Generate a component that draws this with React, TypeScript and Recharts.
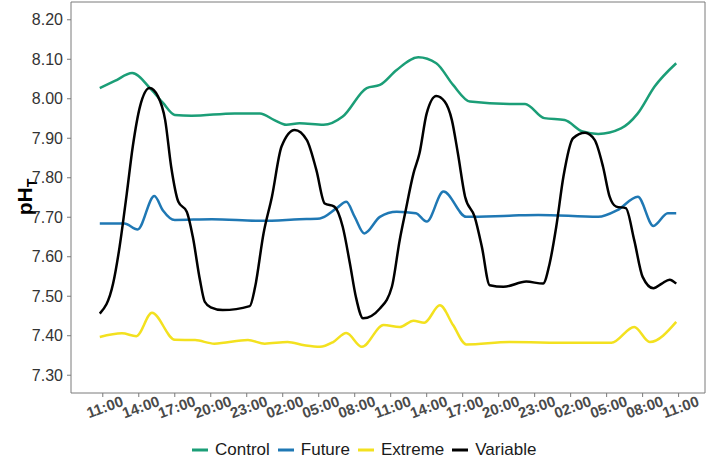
import React from "react";
import { LineChart, Line, XAxis, YAxis, ReferenceArea, Legend } from "recharts";

// hours since the first 11:00 tick
const hourTicks = [0, 3, 6, 9, 12, 15, 18, 21, 24, 27, 30, 33, 36, 39, 42, 45, 48];
const hourLabels = ["11:00", "14:00", "17:00", "20:00", "23:00", "02:00", "05:00", "08:00", "11:00", "14:00", "17:00", "20:00", "23:00", "02:00", "05:00", "08:00", "11:00"];
const phTicks = [7.3, 7.4, 7.5, 7.6, 7.7, 7.8, 7.9, 8.0, 8.1, 8.2];
const seriesNames = ["Control", "Future", "Extreme", "Variable"];

const controlHours = [-0.25, 1.0, 2.45, 4.05, 5.0, 6, 7.4, 11, 13.1, 14.3, 15.3, 16.4, 18.4, 20, 22, 23.1, 24.5, 26.3, 27.8, 29.2, 30.6, 33.9, 35.2, 36.8, 38.5, 40, 41.3, 43.2, 44.6, 46, 47.8];
const controlPH = [8.027, 8.045, 8.065, 8.023, 7.99, 7.959, 7.957, 7.963, 7.963, 7.946, 7.934, 7.938, 7.934, 7.955, 8.027, 8.035, 8.073, 8.105, 8.09, 8.035, 7.993, 7.987, 7.987, 7.951, 7.946, 7.917, 7.911, 7.925, 7.963, 8.031, 8.09];

const futureHours = [-0.25, 1.8, 2.9, 4.3, 5.0, 6, 9.1, 13.2, 16.4, 18.1, 19.5, 20.3, 21.0, 21.8, 23.1, 24.5, 26.1, 27, 28.4, 30.3, 33.9, 36.3, 41.3, 42.9, 44.6, 45.9, 47.1, 47.8];
const futurePH = [7.684, 7.684, 7.669, 7.754, 7.718, 7.693, 7.695, 7.691, 7.695, 7.697, 7.723, 7.739, 7.701, 7.659, 7.701, 7.714, 7.71, 7.689, 7.765, 7.701, 7.704, 7.706, 7.701, 7.718, 7.752, 7.678, 7.71, 7.71];

const extremeHours = [-0.25, 1.6, 2.8, 4.1, 6, 7.7, 9.3, 12.1, 13.5, 15.4, 16.8, 18.1, 19.2, 20.3, 21.6, 23.4, 24.75, 25.9, 26.8, 28.1, 29.2, 30.3, 33.9, 39, 42.4, 44.3, 45.6, 47.8];
const extremePH = [7.397, 7.406, 7.399, 7.458, 7.39, 7.389, 7.38, 7.389, 7.38, 7.384, 7.376, 7.372, 7.384, 7.407, 7.372, 7.427, 7.422, 7.438, 7.433, 7.477, 7.427, 7.378, 7.384, 7.382, 7.382, 7.422, 7.384, 7.435];

const variableHours = [-0.25, 0.86, 1.4, 2, 2.5, 3.1, 3.9, 4.6, 5.2, 5.7, 6.3, 7, 7.5, 8.1, 8.5, 9, 10, 12.25, 12.7, 13.4, 14.1, 14.9, 16, 17, 17.8, 18.5, 19.3, 20, 20.6, 21.1, 21.7, 23.1, 24.1, 24.75, 25.2, 25.9, 26.4, 27, 27.8, 28.5, 29.1, 29.6, 30.2, 31, 31.6, 32.25, 33.4, 35.3, 36.7, 37.25, 37.8, 38.4, 39.2, 40.2, 41, 41.7, 42.25, 42.8, 43.6, 44.3, 45, 45.9, 46.6, 47.25, 47.8];
const variablePH = [7.456, 7.532, 7.625, 7.76, 7.879, 7.98, 8.027, 8.006, 7.946, 7.828, 7.739, 7.714, 7.651, 7.541, 7.486, 7.472, 7.465, 7.475, 7.524, 7.659, 7.752, 7.879, 7.921, 7.896, 7.82, 7.735, 7.727, 7.676, 7.583, 7.498, 7.444, 7.469, 7.524, 7.642, 7.71, 7.811, 7.862, 7.963, 8.007, 7.993, 7.946, 7.862, 7.752, 7.701, 7.625, 7.528, 7.524, 7.537, 7.532, 7.583, 7.676, 7.803, 7.9, 7.914, 7.896, 7.828, 7.752, 7.727, 7.723, 7.642, 7.549, 7.52, 7.532, 7.542, 7.532];

const toRows = (hs: number[], vs: number[]) => hs.map((h, i) => ({ h, v: vs[i] }));

const X_DOMAIN: [number, number] = [-2.65, 50.2];
const Y_DOMAIN: [number, number] = [7.255, 8.245];
const FONT = "'Liberation Sans', Arial, sans-serif";
const GREY = "#7a7a7a";

const XTick = (props: any) => {
  const { x, y, payload } = props;
  const idx = hourTicks.indexOf(payload.value);
  const label = idx >= 0 ? hourLabels[idx] : "";
  return (
    <g transform={`translate(${x},${y})`}>
      <text
        transform="translate(2,8) rotate(-20)"
        textAnchor="middle"
        dy="0.35em"
        fontSize={15}
        fontWeight="bold"
        fill="#4a4a4a"
        fontFamily={FONT}
      >
        {label}
      </text>
    </g>
  );
};

const LegendContent = (props: any) => {
  const { payload } = props;
  const items = [...(payload || [])].sort(
    (a: any, b: any) => seriesNames.indexOf(a.value) - seriesNames.indexOf(b.value)
  );
  return (
    <div style={{ display: "flex", alignItems: "center", paddingLeft: 192, height: 20, fontFamily: FONT }}>
      {items.map((e: any) => (
        <div key={e.value} style={{ display: "flex", alignItems: "center", marginRight: 8 }}>
          <svg width={16} height={20} style={{ display: "block" }}>
            <line x1={0} x2={16} y1={10} y2={10} stroke={e.color} strokeWidth={3} />
          </svg>
          <span style={{ marginLeft: 7, fontSize: 17, lineHeight: "20px", color: "#1a1a1a" }}>{e.value}</span>
        </div>
      ))}
    </div>
  );
};

export default function App() {
  return (
    <div style={{ position: "absolute", left: 0, top: 0, background: "#fff" }}>
      <LineChart width={709} height={458} margin={{ top: 2, right: 4, bottom: 15, left: 0 }}>
        <XAxis
          dataKey="h"
          type="number"
          domain={X_DOMAIN}
          ticks={hourTicks}
          interval={0}
          allowDataOverflow
          axisLine={false}
          tickSize={4}
          tickLine={{ stroke: GREY }}
          tick={<XTick />}
          height={30}
        />
        <YAxis
          type="number"
          domain={Y_DOMAIN}
          ticks={phTicks}
          interval={0}
          allowDataOverflow
          axisLine={false}
          width={71}
          tickSize={4}
          tickMargin={4}
          tickLine={{ stroke: GREY }}
          tickFormatter={(v: number) => v.toFixed(2)}
          tick={{ fill: "#333333", fontSize: 16, fontFamily: FONT }}
        />
        <ReferenceArea
          x1={X_DOMAIN[0]}
          x2={X_DOMAIN[1]}
          y1={Y_DOMAIN[0]}
          y2={Y_DOMAIN[1]}
          fill="none"
          fillOpacity={0}
          stroke={GREY}
          strokeWidth={1}
          ifOverflow="visible"
        />
        <Line data={toRows(controlHours, controlPH)} dataKey="v" name="Control" type="monotone" stroke="#1b9e77" strokeWidth={2.5} dot={false} isAnimationActive={false} />
        <Line data={toRows(futureHours, futurePH)} dataKey="v" name="Future" type="monotone" stroke="#1f78b4" strokeWidth={2.5} dot={false} isAnimationActive={false} />
        <Line data={toRows(extremeHours, extremePH)} dataKey="v" name="Extreme" type="monotone" stroke="#f3e11f" strokeWidth={2.5} dot={false} isAnimationActive={false} />
        <Line data={toRows(variableHours, variablePH)} dataKey="v" name="Variable" type="monotone" stroke="#000000" strokeWidth={2.5} dot={false} isAnimationActive={false} />
        <Legend
          verticalAlign="bottom"
          content={<LegendContent />}
          wrapperStyle={{ left: 0, width: 709, height: 20, top: 440, bottom: "auto" }}
        />
        <text
          x={32}
          y={197}
          transform="rotate(-90, 32, 197)"
          textAnchor="middle"
          fontSize={21}
          fontWeight="bold"
          fill="#000"
          fontFamily={FONT}
        >
          pH<tspan fontSize={14} dy={5}>T</tspan>
        </text>
      </LineChart>
    </div>
  );
}
